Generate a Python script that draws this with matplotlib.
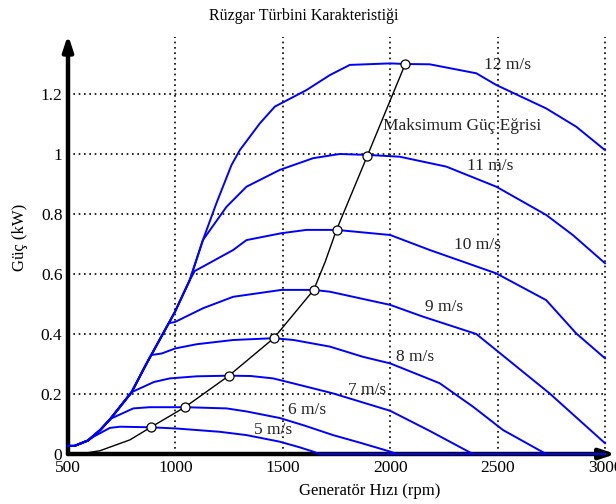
import matplotlib
matplotlib.use("Agg")
import matplotlib.pyplot as plt

# ── ortak yükselen kısım (tüm eğriler buradan ayrılıyor) ──
zarf_rpm = [500, 530, 593, 650, 695, 796, 866, 936, 998, 1067, 1128, 1191, 1261]
zarf_kw = [0.027, 0.027, 0.045, 0.08, 0.115, 0.206, 0.302, 0.393, 0.474, 0.58, 0.713, 0.836, 0.963]

# ── her rüzgar hızı için ayrıldıktan sonraki noktalar ──
v5_rpm = [617, 695, 742, 885, 1005, 1207, 1331, 1486, 1580, 1641, 1670]
v5_kw = [0.057, 0.087, 0.091, 0.089, 0.085, 0.074, 0.063, 0.041, 0.022, 0.008, 0.0]
v6_rpm = [700, 804, 881, 1044, 1238, 1330, 1486, 1600, 1734, 1858, 2000, 2030]
v6_kw = [0.118, 0.152, 0.156, 0.156, 0.152, 0.142, 0.12, 0.095, 0.063, 0.038, 0.008, 0.0]
v7_rpm = [796, 900, 974, 1100, 1249, 1350, 1455, 1579, 1734, 2000, 2184, 2385]
v7_kw = [0.206, 0.24, 0.252, 0.259, 0.261, 0.26, 0.252, 0.23, 0.202, 0.144, 0.077, 0.0]
v8_rpm = [888, 936, 1000, 1100, 1269, 1458, 1550, 1719, 1873, 2000, 2230, 2385, 2525, 2726]
v8_kw = [0.33, 0.335, 0.352, 0.366, 0.38, 0.386, 0.38, 0.358, 0.324, 0.302, 0.236, 0.158, 0.08, 0.0]
v9_rpm = [969, 998, 1129, 1269, 1494, 1644, 1719, 2000, 2152, 2401, 2742, 3000]
v9_kw = [0.436, 0.44, 0.486, 0.524, 0.547, 0.547, 0.541, 0.497, 0.458, 0.40, 0.202, 0.036]
v10_rpm = [1090, 1129, 1269, 1331, 1494, 1610, 1750, 2000, 2184, 2494, 2726, 2866, 3000]
v10_kw = [0.61, 0.625, 0.68, 0.713, 0.736, 0.747, 0.747, 0.73, 0.68, 0.602, 0.513, 0.402, 0.319]
v11_rpm = [1128, 1238, 1331, 1486, 1641, 1765, 1893, 2044, 2261, 2494, 2726, 2850, 3000]
v11_kw = [0.713, 0.824, 0.891, 0.947, 0.986, 1.0, 0.997, 0.991, 0.958, 0.891, 0.797, 0.73, 0.636]
v12_rpm = [1300, 1393, 1463, 1610, 1719, 1812, 2000, 2070, 2184, 2401, 2494, 2726, 2866, 3000]
v12_kw = [1.013, 1.102, 1.158, 1.213, 1.263, 1.297, 1.302, 1.30, 1.299, 1.269, 1.23, 1.152, 1.091, 1.013]

# ── maksimum güç eğrisi ──
mpp_rpm = [556, 649, 788, 885, 1044, 1249, 1458, 1644, 1697, 1750, 1893, 2070]
mpp_kw = [0.0, 0.011, 0.047, 0.089, 0.156, 0.261, 0.386, 0.547, 0.64, 0.747, 0.993, 1.30]
tepe_rpm = [885, 1044, 1249, 1458, 1644, 1750, 1893, 2070]
tepe_kw = [0.089, 0.156, 0.261, 0.386, 0.547, 0.747, 0.993, 1.30]

egriler = [
    (v5_rpm, v5_kw), (v6_rpm, v6_kw), (v7_rpm, v7_kw), (v8_rpm, v8_kw),
    (v9_rpm, v9_kw), (v10_rpm, v10_kw), (v11_rpm, v11_kw), (v12_rpm, v12_kw),
]
etiketler = ["5 m/s", "6 m/s", "7 m/s", "8 m/s", "9 m/s", "10 m/s", "11 m/s", "12 m/s"]
etiket_x = [1453, 1612, 1891, 2114, 2253, 2407, 2467, 2547]
etiket_y = [0.08, 0.147, 0.213, 0.323, 0.49, 0.697, 0.96, 1.297]

x_ticks = [500, 1000, 1500, 2000, 2500, 3000]
y_ticks = [0, 0.2, 0.4, 0.6, 0.8, 1.0, 1.2]
y_tick_labels = ["0", "0.2", "0.4", "0.6", "0.8", "1", "1.2"]

plt.rcParams["font.family"] = ["Liberation Serif", "DejaVu Serif"]

fig = plt.figure(figsize=(6.16, 5.04), dpi=100)
ax = fig.add_axes([68 / 616, 50 / 504, 537 / 616, 417 / 504])
ax.set_xlim(500, 3000)
ax.set_ylim(0, 1.39)

# grid (noktalı)
for xv in x_ticks[1:]:
    ax.plot([xv, xv], [0, 1.39], color="black", lw=1.2, ls=(0, (1, 2.2)), zorder=1, clip_on=False)
for yv in y_ticks[1:]:
    ax.plot([500, 3000], [yv, yv], color="black", lw=1.2, ls=(0, (1, 2.2)), zorder=1)

for rpm, kw in egriler:
    r = [x for x in zarf_rpm if x < rpm[0]] + rpm
    k = [y for x, y in zip(zarf_rpm, zarf_kw) if x < rpm[0]] + kw
    if r[-1] < 3000:
        r = r + [3000]
        k = k + [0.0]
    ax.plot(r, k, color="blue", lw=1.4, zorder=4, clip_on=False)

ax.plot(mpp_rpm, mpp_kw, color="black", lw=1.0, zorder=5)
ax.plot(tepe_rpm, tepe_kw, "o", ms=6.5, mfc="white", mec="black", mew=0.9, zorder=6)

for t, xv, yv in zip(etiketler, etiket_x, etiket_y):
    ax.text(xv, yv, t, ha="center", va="center", fontsize=12.5, color="#222222", zorder=7)
ax.text(1965, 1.093, "Maksimum Güç Eğrisi", ha="left", va="center", fontsize=12.5,
        color="#222222", zorder=7)

# eksenler: kalın siyah oklar
for s in ax.spines.values():
    s.set_visible(False)
ax.annotate("", xy=(0, 1.005), xytext=(0, 0), xycoords="axes fraction",
            arrowprops=dict(arrowstyle="-|>,head_length=0.9,head_width=0.3", lw=3.2,
                            color="black", shrinkA=0, shrinkB=0), zorder=3)
ax.annotate("", xy=(1.02, 0), xytext=(0, 0), xycoords="axes fraction",
            arrowprops=dict(arrowstyle="-|>,head_length=0.9,head_width=0.3", lw=3.2,
                            color="black", shrinkA=0, shrinkB=0), zorder=3)

ax.set_xticks(x_ticks)
ax.set_yticks(y_ticks)
ax.set_yticklabels(y_tick_labels)
ax.tick_params(length=0, labelsize=12.5, pad=4)

fig.text(304 / 616, 1 - 16 / 504, "Rüzgar Türbini Karakteristiği", ha="center", va="center",
         fontsize=11.5)
fig.text(370 / 616, 1 - 491 / 504, "Generatör Hızı (rpm)", ha="center", va="center", fontsize=12)
fig.text(20 / 616, 1 - 237 / 504, "Güç (kW)", ha="center", va="center", fontsize=12, rotation=90)

fig.savefig("out.png", dpi=100)
